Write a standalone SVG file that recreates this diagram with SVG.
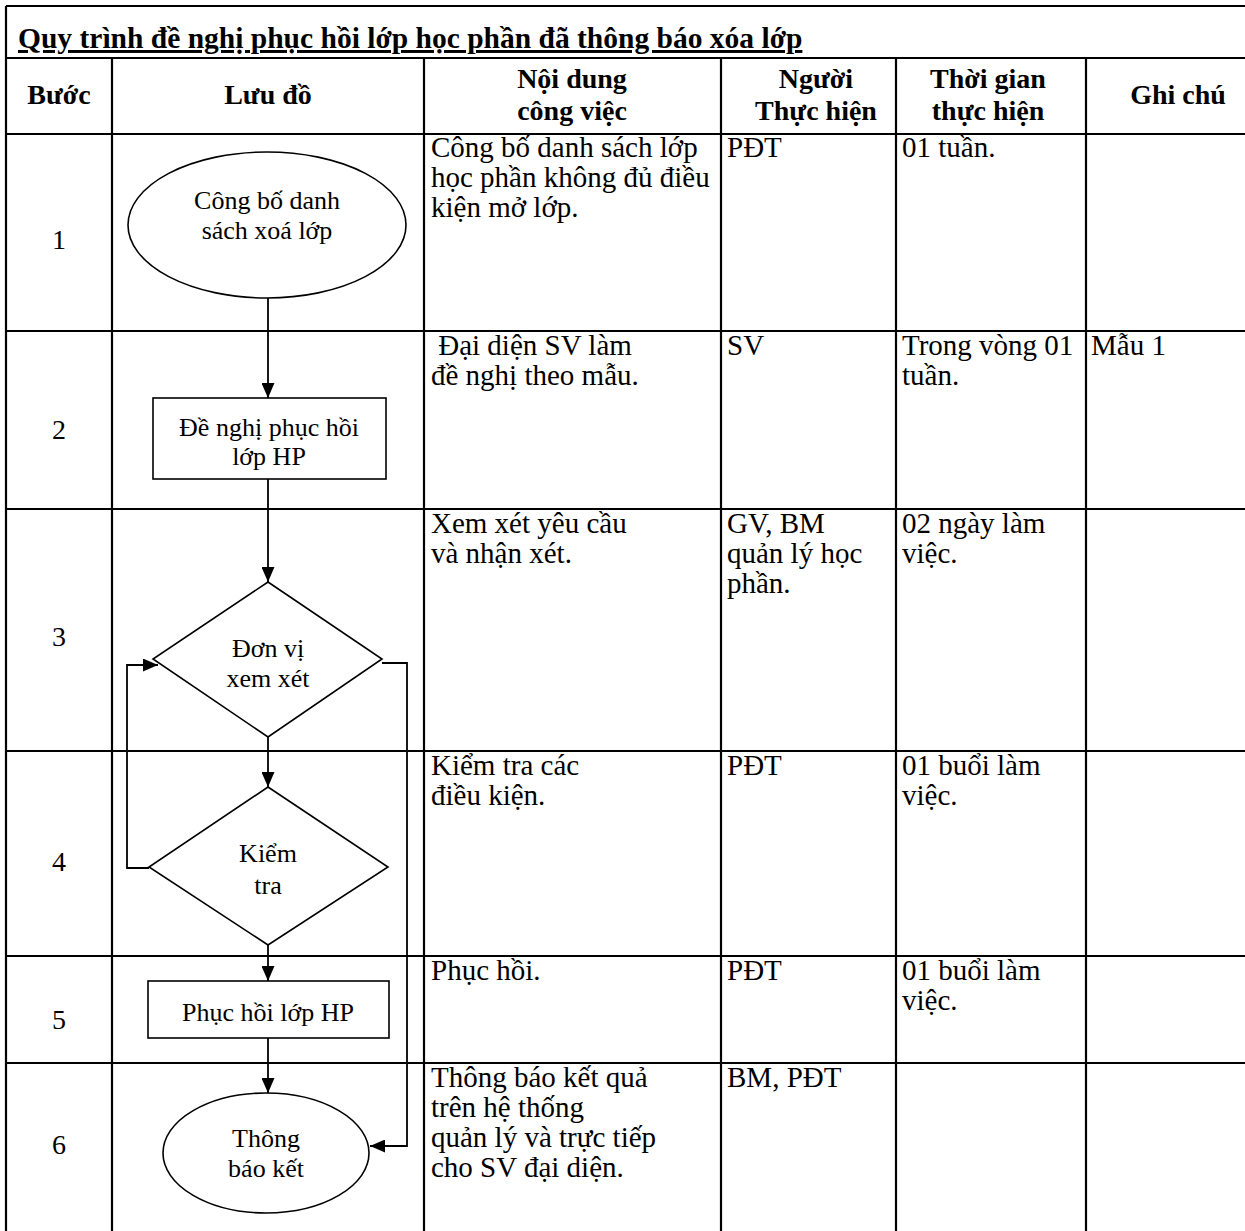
<svg xmlns="http://www.w3.org/2000/svg" width="1245" height="1231" viewBox="0 0 1245 1231">
<style>
.grid{stroke:#000;stroke-width:2.2;fill:none}
.shape{stroke:#000;stroke-width:1.6;fill:#fff}
.conn{stroke:#000;stroke-width:1.8;fill:none}
.t{font-family:"Liberation Serif","Times New Roman",serif;fill:#000}
.title{font-size:29.5px;font-weight:bold;text-decoration:underline}
.hd{font-size:28px;font-weight:bold;text-anchor:middle}
.bd{font-size:29px}
.num{font-size:28px;text-anchor:middle}
.fc{font-size:26px;text-anchor:middle}
</style>
<defs>
<marker id="arr" viewBox="0 0 15 13" refX="15" refY="6.5" markerWidth="15" markerHeight="13" markerUnits="userSpaceOnUse" orient="auto">
<path d="M0,0 L15,6.5 L0,13 z" fill="#000"/>
</marker>
</defs>
<rect width="1245" height="1231" fill="#fff"/>
<g id="table">
<line class="grid" x1="6" y1="6" x2="1245" y2="6"/>
<line class="grid" x1="6" y1="6" x2="6" y2="1231"/>
<line class="grid" x1="6" y1="58" x2="1245" y2="58"/>
<line class="grid" x1="6" y1="134" x2="1245" y2="134"/>
<line class="grid" x1="6" y1="331" x2="1245" y2="331"/>
<line class="grid" x1="6" y1="509" x2="1245" y2="509"/>
<line class="grid" x1="6" y1="751" x2="1245" y2="751"/>
<line class="grid" x1="6" y1="956" x2="1245" y2="956"/>
<line class="grid" x1="6" y1="1063" x2="1245" y2="1063"/>
<line class="grid" x1="112" y1="58" x2="112" y2="1231"/>
<line class="grid" x1="424" y1="58" x2="424" y2="1231"/>
<line class="grid" x1="721" y1="58" x2="721" y2="1231"/>
<line class="grid" x1="896" y1="58" x2="896" y2="1231"/>
<line class="grid" x1="1086" y1="58" x2="1086" y2="1231"/>
</g>
<g id="title">
<text class="t title" x="18" y="48">Quy trình đề nghị phục hồi lớp học phần đã thông báo xóa lớp</text>
</g>
<g id="header">
<text class="t hd" x="59" y="104">Bước</text>
<text class="t hd" x="268" y="104">Lưu đồ</text>
<text class="t hd" x="572" y="88">Nội dung</text>
<text class="t hd" x="572" y="120">công việc</text>
<text class="t hd" x="816" y="88">Người</text>
<text class="t hd" x="816" y="120">Thực hiện</text>
<text class="t hd" x="988" y="88">Thời gian</text>
<text class="t hd" x="988" y="120">thực hiện</text>
<text class="t hd" x="1178" y="104">Ghi chú</text>
</g>
<g id="steps">
<text class="t num" x="59" y="249">1</text>
<text class="t num" x="59" y="439">2</text>
<text class="t num" x="59" y="646">3</text>
<text class="t num" x="59" y="871">4</text>
<text class="t num" x="59" y="1029">5</text>
<text class="t num" x="59" y="1154">6</text>
</g>
<g id="row1-text">
<text class="t bd" x="431" y="157">Công bố danh sách lớp</text>
<text class="t bd" x="431" y="187">học phần không đủ điều</text>
<text class="t bd" x="431" y="217">kiện mở lớp.</text>
<text class="t bd" x="727" y="157">PĐT</text>
<text class="t bd" x="902" y="157">01 tuần.</text>
</g>
<g id="row2-text">
<text class="t bd" x="431" y="355" xml:space="preserve"> Đại diện SV làm</text>
<text class="t bd" x="431" y="385">đề nghị theo mẫu.</text>
<text class="t bd" x="727" y="355">SV</text>
<text class="t bd" x="902" y="355">Trong vòng 01</text>
<text class="t bd" x="902" y="385">tuần.</text>
<text class="t bd" x="1091" y="355">Mẫu 1</text>
</g>
<g id="row3-text">
<text class="t bd" x="431" y="533">Xem xét yêu cầu</text>
<text class="t bd" x="431" y="563">và nhận xét.</text>
<text class="t bd" x="727" y="533">GV, BM</text>
<text class="t bd" x="727" y="563">quản lý học</text>
<text class="t bd" x="727" y="593">phần.</text>
<text class="t bd" x="902" y="533">02 ngày làm</text>
<text class="t bd" x="902" y="563">việc.</text>
</g>
<g id="row4-text">
<text class="t bd" x="431" y="775">Kiểm tra các</text>
<text class="t bd" x="431" y="805">điều kiện.</text>
<text class="t bd" x="727" y="775">PĐT</text>
<text class="t bd" x="902" y="775">01 buổi làm</text>
<text class="t bd" x="902" y="805">việc.</text>
</g>
<g id="row5-text">
<text class="t bd" x="431" y="980">Phục hồi.</text>
<text class="t bd" x="727" y="980">PĐT</text>
<text class="t bd" x="902" y="980">01 buổi làm</text>
<text class="t bd" x="902" y="1010">việc.</text>
</g>
<g id="row6-text">
<text class="t bd" x="431" y="1087">Thông báo kết quả</text>
<text class="t bd" x="431" y="1117">trên hệ thống</text>
<text class="t bd" x="431" y="1147">quản lý và trực tiếp</text>
<text class="t bd" x="431" y="1177">cho SV đại diện.</text>
<text class="t bd" x="727" y="1087">BM, PĐT</text>
</g>
<g id="connectors">
<line class="conn" x1="268" y1="298" x2="268" y2="398" marker-end="url(#arr)"/>
<line class="conn" x1="268" y1="479" x2="268" y2="582" marker-end="url(#arr)"/>
<line class="conn" x1="268" y1="737" x2="268" y2="787" marker-end="url(#arr)"/>
<line class="conn" x1="268" y1="945" x2="268" y2="981" marker-end="url(#arr)"/>
<line class="conn" x1="268" y1="1038" x2="268" y2="1093" marker-end="url(#arr)"/>
<polyline class="conn" points="149,868 127,868 127,665 158,665" marker-end="url(#arr)"/>
<polyline class="conn" points="382,663 407,663 407,1146 370,1146" marker-end="url(#arr)"/>
</g>
<g id="n1">
<ellipse class="shape" cx="267" cy="225" rx="139" ry="73"/>
<text class="t fc" x="267" y="209">Công bố danh</text>
<text class="t fc" x="267" y="239">sách xoá lớp</text>
</g>
<g id="n2">
<rect class="shape" x="153" y="398" width="233" height="81"/>
<text class="t fc" x="269" y="436">Đề nghị phục hồi</text>
<text class="t fc" x="269" y="465">lớp HP</text>
</g>
<g id="n3">
<polygon class="shape" points="268,582 382,659 268,737 153,659"/>
<text class="t fc" x="268" y="657">Đơn vị</text>
<text class="t fc" x="268" y="687">xem xét</text>
</g>
<g id="n4">
<polygon class="shape" points="268,787 388,867 268,945 149,867"/>
<text class="t fc" x="268" y="862">Kiểm</text>
<text class="t fc" x="268" y="894">tra</text>
</g>
<g id="n5">
<rect class="shape" x="148" y="981" width="241" height="57"/>
<text class="t fc" x="268" y="1021">Phục hồi lớp HP</text>
</g>
<g id="n6">
<ellipse class="shape" cx="266" cy="1153" rx="103" ry="60"/>
<text class="t fc" x="266" y="1147">Thông</text>
<text class="t fc" x="266" y="1177">báo kết</text>
</g>
</svg>
